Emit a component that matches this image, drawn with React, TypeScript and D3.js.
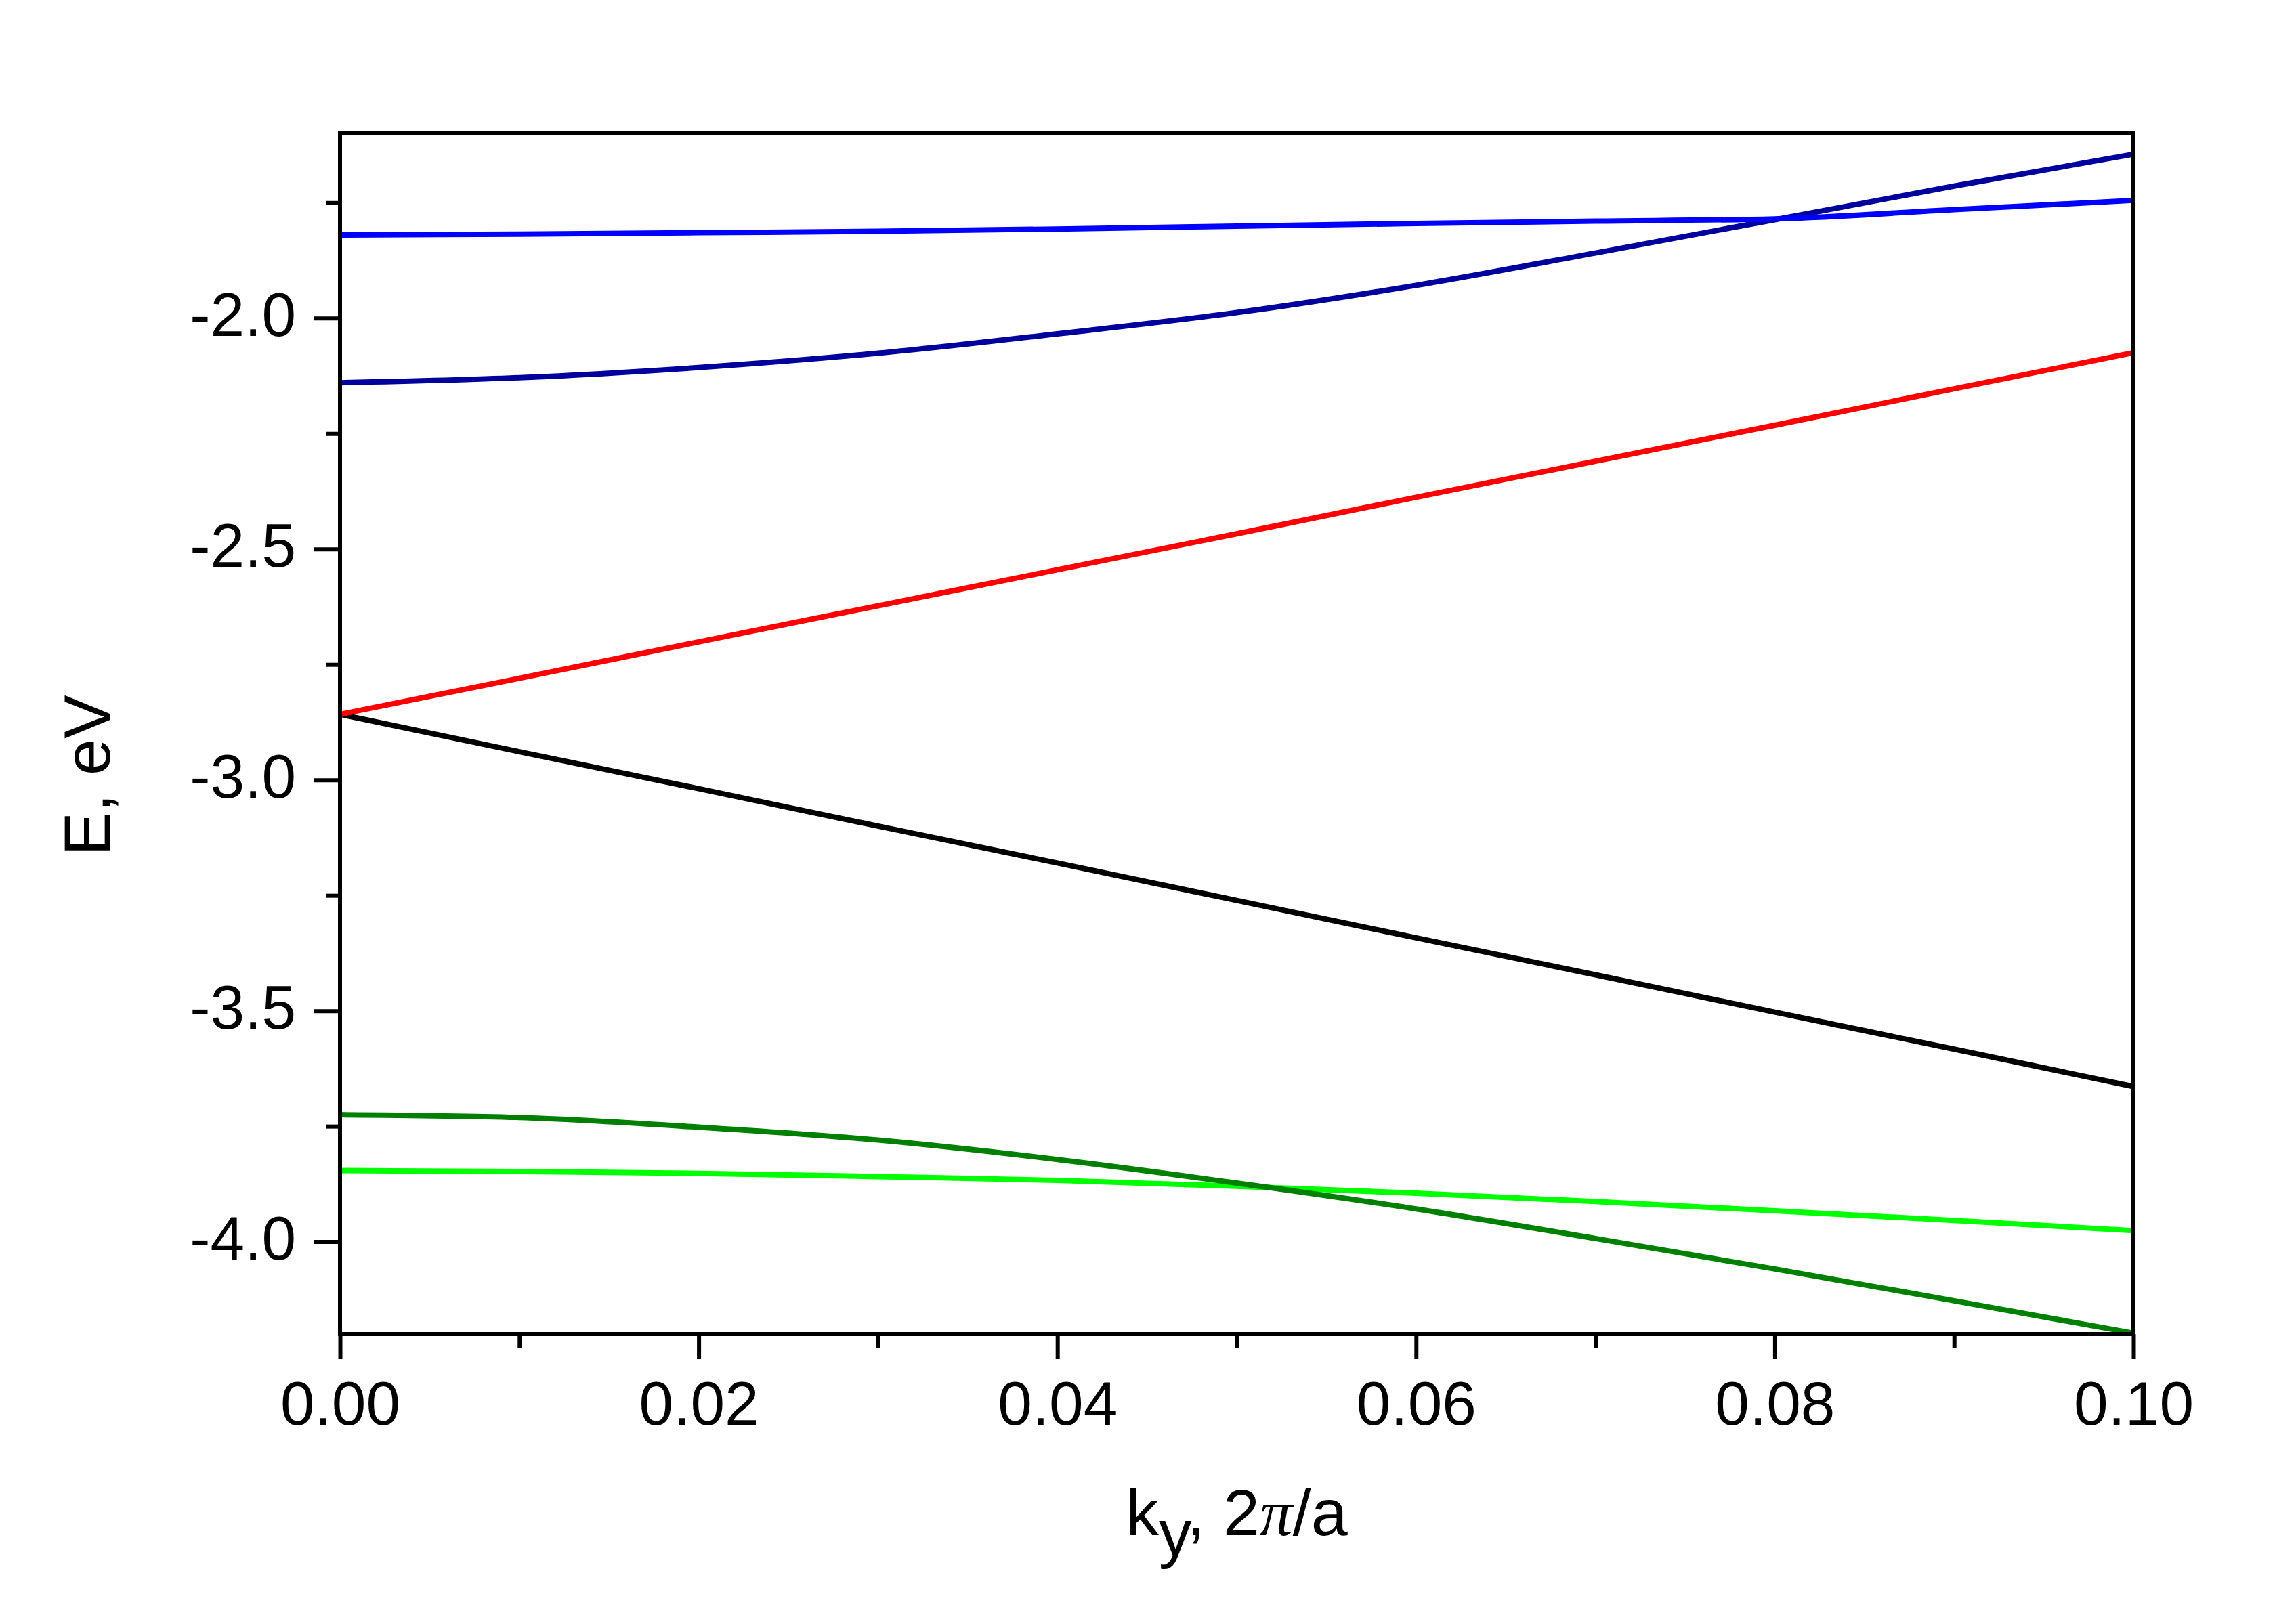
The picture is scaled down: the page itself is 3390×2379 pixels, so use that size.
import { useRef, useEffect } from 'react';
import * as d3 from 'd3';

const W = 3390;
const H = 2379;
const margin = { top: 197, right: 240, bottom: 409, left: 502 };

const kValues = [0, 0.01, 0.02, 0.03, 0.04, 0.05, 0.06, 0.07, 0.08, 0.09, 0.1];

const bandBlue = [-1.820, -1.818, -1.815, -1.812, -1.807, -1.801, -1.795, -1.790, -1.785, -1.765, -1.745];
const bandNavy = [-2.140, -2.129, -2.107, -2.076, -2.034, -1.988, -1.929, -1.859, -1.787, -1.714, -1.645];
const bandRed = [-2.858, -2.780, -2.701, -2.623, -2.545, -2.467, -2.388, -2.310, -2.232, -2.153, -2.075];
const bandBlack = [-2.858, -2.939, -3.019, -3.100, -3.180, -3.261, -3.342, -3.422, -3.503, -3.583, -3.664];
const bandGreen = [-3.725, -3.731, -3.752, -3.780, -3.822, -3.873, -3.929, -3.993, -4.059, -4.128, -4.198];
const bandLime = [-3.846, -3.848, -3.852, -3.859, -3.867, -3.880, -3.895, -3.913, -3.933, -3.954, -3.976];

const xMajor = [0, 0.02, 0.04, 0.06, 0.08, 0.1];
const xMinor = [0.01, 0.03, 0.05, 0.07, 0.09];
const yMajor = [-2.0, -2.5, -3.0, -3.5, -4.0];
const yMinor = [-1.75, -2.25, -2.75, -3.25, -3.75];

// drawing order matters at the crossings
const series = [
  { values: bandNavy, color: '#00009c' },
  { values: bandBlue, color: '#0000ff' },
  { values: bandBlack, color: '#000000' },
  { values: bandRed, color: '#ff0000' },
  { values: bandLime, color: '#00ff00' },
  { values: bandGreen, color: '#008000' },
];

const FONT = '"Liberation Sans", Arial, sans-serif';

export default function App() {
  const svgRef = useRef<SVGSVGElement>(null);

  useEffect(() => {
    const svg = d3.select(svgRef.current);
    if (!svg.node()) return;
    svg.selectAll('*').remove();

    const x = d3.scaleLinear().domain([0, 0.1]).range([margin.left, W - margin.right]);
    const y = d3.scaleLinear().domain([-4.2, -1.6]).range([H - margin.bottom, margin.top]);

    const line = d3.line<number>()
      .x((_, i) => x(kValues[i]))
      .y(d => y(d))
      .curve(d3.curveMonotoneX);

    const lines = svg.append('g');
    series.forEach(s => {
      lines.append('path')
        .attr('d', line(s.values))
        .attr('fill', 'none')
        .attr('stroke', s.color)
        .attr('stroke-width', 8);
    });

    const bottom = H - margin.bottom;

    const xAxis = svg.append('g')
      .attr('transform', `translate(0, ${bottom})`)
      .call(d3.axisBottom(x).tickValues(xMajor).tickSize(37).tickPadding(32).tickFormat(d3.format('.2f')));
    svg.append('g')
      .attr('transform', `translate(0, ${bottom})`)
      .call(d3.axisBottom(x).tickValues(xMinor).tickSize(21).tickFormat(() => ''));

    const yAxis = svg.append('g')
      .attr('transform', `translate(${margin.left}, 0)`)
      .call(d3.axisLeft(y).tickValues(yMajor).tickSize(38).tickPadding(27).tickFormat(d3.format('.1f')));
    svg.append('g')
      .attr('transform', `translate(${margin.left}, 0)`)
      .call(d3.axisLeft(y).tickValues(yMinor).tickSize(21).tickFormat(() => ''));

    svg.selectAll('.domain').remove();
    svg.selectAll('.tick line').attr('stroke', '#000').attr('stroke-width', 6);
    xAxis.selectAll('text')
      .style('font-family', FONT)
      .style('font-size', '91px')
      .attr('fill', '#000');
    yAxis.selectAll('text')
      .style('font-family', FONT)
      .style('font-size', '91px')
      .attr('fill', '#000')
      .attr('dy', '0.28em')
      .text(d => d3.format('.1f')(d as number).replace('−', '-'));

    svg.append('rect')
      .attr('x', margin.left)
      .attr('y', margin.top)
      .attr('width', W - margin.left - margin.right)
      .attr('height', H - margin.top - margin.bottom)
      .attr('fill', 'none')
      .attr('stroke', '#000')
      .attr('stroke-width', 6);

    const xLabel = svg.append('text')
      .attr('x', (margin.left + W - margin.right) / 2)
      .attr('y', 2267)
      .attr('text-anchor', 'middle')
      .style('font-family', FONT)
      .style('font-size', '97px')
      .attr('fill', '#000');
    xLabel.append('tspan').text('k');
    xLabel.append('tspan').attr('dy', 30).text('y');
    xLabel.append('tspan').attr('dy', -30).text(', 2');
    xLabel.append('tspan').style('font-family', '"Liberation Serif", serif').style('font-style', 'italic').text('π');
    xLabel.append('tspan').text('/a');

    svg.append('text')
      .attr('transform', 'translate(162, 1145) rotate(-90)')
      .attr('text-anchor', 'middle')
      .style('font-family', FONT)
      .style('font-size', '97px')
      .attr('fill', '#000')
      .text('E, eV');
  }, []);

  return (
    <svg
      ref={svgRef}
      width={W}
      height={H}
      style={{ position: 'absolute', left: 0, top: 0, background: '#fff' }}
    />
  );
}
